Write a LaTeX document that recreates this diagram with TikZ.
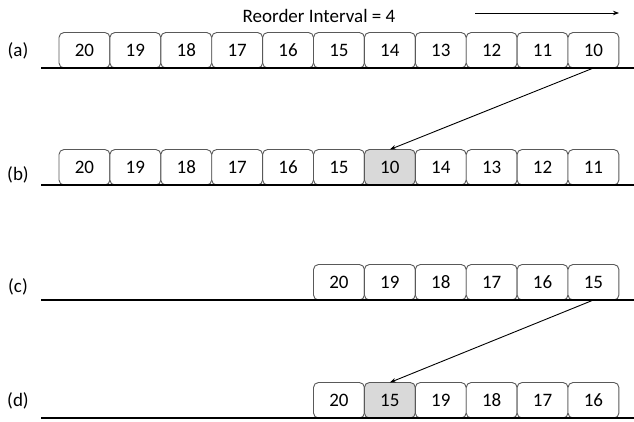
\documentclass[tikz,border=0pt]{standalone}
\usepackage{fontspec}
\setmainfont{Carlito}
\usetikzlibrary{arrows.meta}
\definecolor{boxborder}{HTML}{595959}
\definecolor{hl}{HTML}{D9D9D9}
\tikzset{
  cell/.style={draw=boxborder, line width=0.9pt, rounded corners=5pt, fill=white,
    minimum width=50.9pt, minimum height=35.5pt, inner sep=0pt, outer sep=0pt,
    text height=12.2pt, text depth=0pt,
    font=\fontsize{19}{22}\selectfont},
  hcell/.style={cell, fill=hl},
  rowlabel/.style={font=\fontsize{19}{22}\selectfont, inner sep=0pt},
  baseline/.style={line width=1.2pt, black},
  movearrow/.style={line width=0.9pt, -{Stealth[length=6pt,width=4.5pt]}},
}
\begin{document}
\begin{tikzpicture}[x=1pt,y=-1pt]
\useasboundingbox (0,0) rectangle (634,421);
% title
\node[font=\fontsize{19}{22}\selectfont, inner sep=0pt] (title) at (319,16) {Reorder Interval = 4};
\coordinate (ts) at (475,13);
\coordinate (te) at (619,13);
\draw[movearrow, line width=0.8pt] (ts) -- (te);
% row labels
\node[rowlabel] (la) at (18,51) {(a)};
\node[rowlabel] (lb) at (18,175) {(b)};
\node[rowlabel] (lc) at (18,287) {(c)};
\node[rowlabel] (ld) at (18,401) {(d)};
% row (a)
\foreach \v [count=\i from 0] in {20,19,18,17,16,15,14,13,12,11,10}
  \node[cell] (a\i) at ({59+50.9*\i+25.45},50.25) {\v};
% row (b)
\foreach \v [count=\i from 0] in {20,19,18,17,16,15,10,14,13,12,11}{
  \ifnum\i=6
    \node[hcell] (b\i) at ({59+50.9*\i+25.45},167.25) {\v};
  \else
    \node[cell] (b\i) at ({59+50.9*\i+25.45},167.25) {\v};
  \fi}
% row (c)
\foreach \v [count=\i from 5] in {20,19,18,17,16,15}
  \node[cell] (c\i) at ({59+50.9*\i+25.45},282.25) {\v};
% row (d)
\foreach \v [count=\i from 5] in {20,15,19,18,17,16}{
  \ifnum\i=6
    \node[hcell] (d\i) at ({59+50.9*\i+25.45},400.25) {\v};
  \else
    \node[cell] (d\i) at ({59+50.9*\i+25.45},400.25) {\v};
  \fi}
% base lines
\coordinate (lal) at (41,68); \coordinate (lar) at (634,68);
\coordinate (lbl) at (41,185); \coordinate (lbr) at (634,185);
\coordinate (lcl) at (41,300); \coordinate (lcr) at (634,300);
\coordinate (ldl) at (41,418); \coordinate (ldr) at (634,418);
\draw[baseline] (lal) -- (lar);
\draw[baseline] (lbl) -- (lbr);
\draw[baseline] (lcl) -- (lcr);
\draw[baseline] (ldl) -- (ldr);
% moves
\draw[movearrow] (a10.south) -- (b6.north);
\draw[movearrow] (c10.south) -- (d6.north);
\end{tikzpicture}
\end{document}
